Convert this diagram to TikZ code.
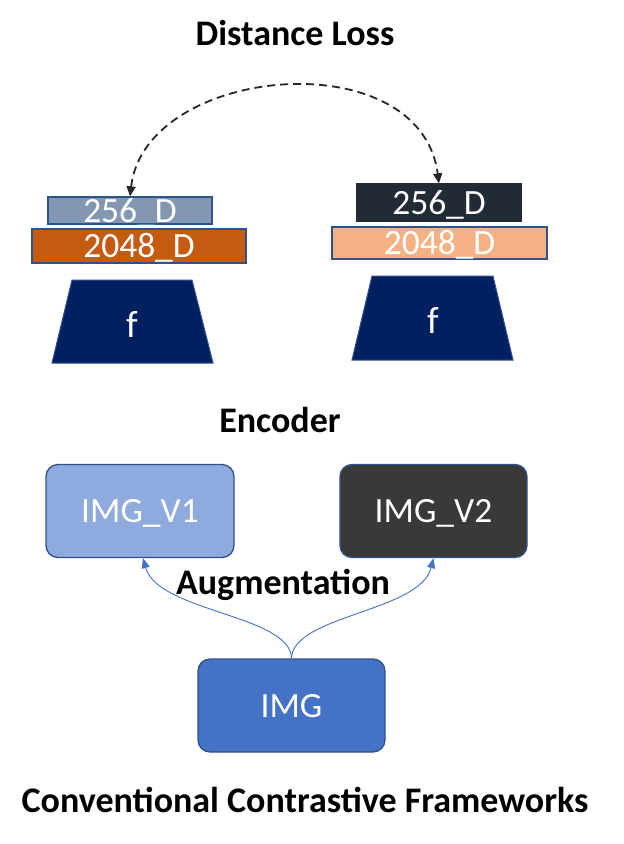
\documentclass[tikz,border=0pt]{standalone}
\usepackage{fontspec}
\setmainfont{Carlito}
\usetikzlibrary{arrows.meta}
\definecolor{bordblue}{HTML}{2F528F}
\definecolor{lgray}{HTML}{8497B0}
\definecolor{rust}{HTML}{C55A11}
\definecolor{navyd}{HTML}{222A35}
\definecolor{peach}{HTML}{F4B183}
\definecolor{encblue}{HTML}{002060}
\definecolor{v1blue}{HTML}{8FAADC}
\definecolor{v2gray}{HTML}{3B3838}
\definecolor{imgblue}{HTML}{4472C4}
\definecolor{darkline}{HTML}{262626}
\begin{document}
\begin{tikzpicture}[x=1pt,y=-1pt,
  font=\fontsize{35.5}{42}\selectfont,
  featbox/.style={draw=bordblue,line width=1.3pt,inner sep=0pt,text=white,
    text height=23pt,text depth=0pt},
  imgbox/.style={draw=bordblue,line width=1.3pt,rounded corners=12pt,inner sep=0pt,
    text=white,text height=23pt,text depth=0pt,minimum width=187pt,minimum height=93pt},
  title/.style={font=\fontsize{36}{42}\selectfont\bfseries,anchor=base,text=black},
  encshape/.style={fill=encblue,draw=bordblue,line width=1pt},
  ftext/.style={anchor=base,text=white,font=\fontsize{38}{42}\selectfont},
  augarrow/.style={draw=imgblue,line width=0.9pt,-{Triangle[length=10pt,width=8pt]}},
  lossarrow/.style={draw=darkline,line width=1.8pt,dash pattern=on 8pt off 5pt,
    {Triangle[length=10pt,width=9pt]}-{Triangle[length=10pt,width=9pt]}}
]
\useasboundingbox (0,0) rectangle (624,844);

% titles
\node[title] (tdist) at (295,45) {Distance Loss};
\node[title] (tenc) at (280,432) {Encoder};
\node[title] (taug) at (283,594) {Augmentation};
\node[title] (tconv) at (305,812) {Conventional Contrastive Frameworks};

% left branch
\node[featbox,fill=lgray,minimum width=164pt,minimum height=27pt] (l256) at (130,210.5) {256\_D};
\node[featbox,fill=rust,minimum width=214pt,minimum height=34pt] (l2048) at (139,246) {2048\_D};
\path[encshape] (72,280) -- (192,280) -- (213,363) -- (52,363) -- cycle;
\node[ftext] (lf) at (132,337) {f};

% right branch
\node[featbox,fill=navyd,draw=navyd,minimum width=164pt,minimum height=37pt] (r256) at (439,202.5) {256\_D};
\node[featbox,fill=peach,minimum width=215pt,minimum height=32pt] (r2048) at (439.5,243) {2048\_D};
\path[encshape] (372,276) -- (493,276) -- (513,360) -- (352,360) -- cycle;
\node[ftext] (rf) at (433,333) {f};

% image boxes
\node[imgbox,fill=v1blue,minimum width=188pt] (v1) at (140,511) {IMG\_V1};
\node[imgbox,fill=v2gray] (v2) at (433.5,511) {IMG\_V2};
\node[imgbox,fill=imgblue] (img) at (291.5,705.5) {IMG};

% connectors
\draw[lossarrow] (l256.north) .. controls (145,65) and (420,40) .. (r256.north);
\draw[augarrow] (img.north) .. controls (291,615) and (158,612) .. ([xshift=3pt]v1.south);
\draw[augarrow] (img.north) .. controls (293,615) and (420,612) .. (v2.south);
\end{tikzpicture}
\end{document}
